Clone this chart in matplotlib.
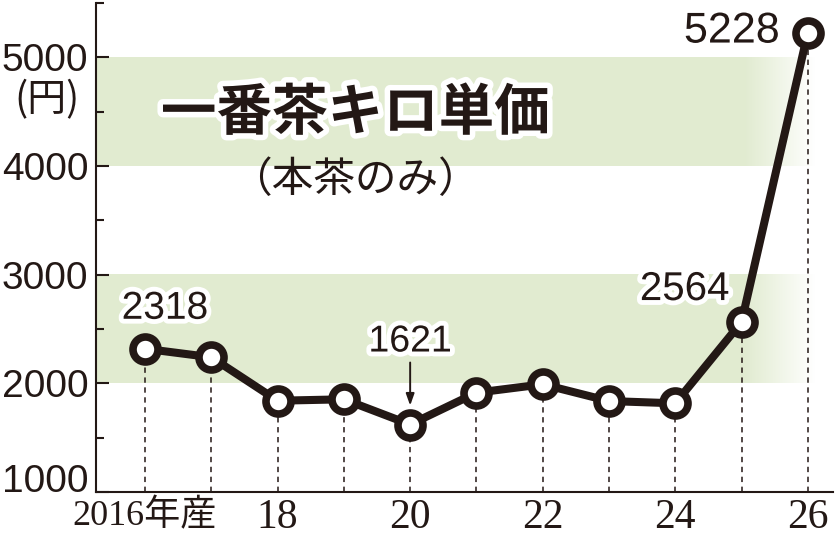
import numpy as np
import matplotlib
matplotlib.use("Agg")
import matplotlib.pyplot as plt
import matplotlib.patheffects as pe
from matplotlib.transforms import offset_copy

plt.rcParams['font.family'] = ['Liberation Sans', 'Noto Sans CJK JP', 'DejaVu Sans']

# data
years = [2016, 2017, 2018, 2019, 2020, 2021, 2022, 2023, 2024, 2025, 2026]
prices = [2318, 2240, 1840, 1853, 1621, 1914, 1991, 1837, 1816, 2564, 5228]
xtick_pos = [2016, 2018, 2020, 2022, 2024, 2026]
xtick_labels = ["2016年産", "18", "20", "22", "24", "26"]
ytick_pos = [1000, 2000, 3000, 4000, 5000]
ytick_labels = ["1000", "2000", "3000", "4000", "5000"]
bands = [(2000, 3000), (4000, 5000)]
# year -> (label, offset in pixels from the point, font size)
callouts = {2016: ("2318", (20, 40), 28),
            2020: ("1621", (0, 83), 27),
            2025: ("2564", (-57, 33), 29),
            2026: ("5228", (-76, 1), 31)}

ink = "#231815"
green = (0.886, 0.922, 0.816)
halo = [pe.withStroke(linewidth=7, foreground="white")]

fig = plt.figure(figsize=(8.38, 5.37), dpi=100)
W, H = 838, 537
ax = fig.add_axes([96 / W, 45 / H, (833 - 96) / W, (534 - 45) / H])

xmin, xmax = 2015.26, 2026.38
ymin, ymax = 1000, 5500

# green bands that fade out on the right
band_end = 2026.11
fade_start = 2025.05
n = 400
xs = np.linspace(xmin, band_end, n)
alpha = np.clip((band_end - xs) / (band_end - fade_start), 0, 1)
rgba = np.zeros((1, n, 4))
rgba[..., 0], rgba[..., 1], rgba[..., 2] = green
rgba[..., 3] = alpha
for lo, hi in bands:
    ax.imshow(rgba, extent=[xmin, band_end, lo, hi], aspect="auto",
              interpolation="bilinear", zorder=0)

# dashed drop lines
ax.vlines(years, ymin, prices, colors=ink, linestyles=(0, (3.5, 3)), lw=1.1, zorder=2)

ax.plot(years, prices, color=ink, lw=5.8, marker="o", ms=18, mfc="white",
        mec=ink, mew=5.5, zorder=4, solid_joinstyle="round")

for yr, (txt, (dx, dy), fs) in callouts.items():
    val = prices[years.index(yr)]
    ax.annotate(txt, (yr, val), xytext=(dx, dy), textcoords="offset pixels",
                ha="center", va="center", fontsize=fs, color=ink,
                path_effects=halo, zorder=6)

# small arrow onto the lowest point
low = prices[years.index(2020)]
ax.annotate("", xy=(2020, low), xycoords=offset_copy(ax.transData, fig, y=19, units="dots"),
            xytext=(2020, low), textcoords=offset_copy(ax.transData, fig, y=62, units="dots"),
            arrowprops=dict(arrowstyle="-|>,head_length=0.7,head_width=0.25", color=ink,
                            lw=1.4, shrinkA=0, shrinkB=0), zorder=6)

ax.set_xlim(xmin, xmax)
ax.set_ylim(ymin, ymax)

for s in ["top", "right"]:
    ax.spines[s].set_visible(False)
for s in ["left", "bottom"]:
    ax.spines[s].set_color(ink)
    ax.spines[s].set_linewidth(1.5)

ax.set_yticks(ytick_pos)
ax.set_yticklabels(ytick_labels)
ax.set_yticks(np.arange(1500, 5501, 1000), minor=True)
ax.tick_params(axis="y", which="major", direction="in", length=9.5, width=1.5,
               colors=ink, labelsize=28, pad=5.5)
ax.tick_params(axis="y", which="minor", direction="in", length=5.5, width=1.5, colors=ink)
ytl = ax.get_yticklabels()
ytl[0].set_va("baseline")

ax.set_xticks(xtick_pos)
ax.set_xticklabels(xtick_labels, family=["Liberation Serif", "Noto Sans CJK JP"])
ax.tick_params(axis="x", length=0, labelsize=30, colors=ink, pad=5)
xtl = ax.get_xticklabels()
xtl[0].set_fontsize(26)
xtl[0].set_x(2015.9)

ax.text(2019.17, 4480, "一番茶キロ単価", fontsize=40, fontweight="bold",
        family=["Noto Sans CJK JP"], color=ink, ha="center", va="center",
        path_effects=[pe.withStroke(linewidth=8, foreground="white")], zorder=5)
ax.text(2019.17, 3865, "（本茶のみ）", fontsize=30, family=["Noto Sans CJK JP"],
        color=ink, ha="center", va="center", zorder=5)

fig.text(47 / W, 1 - 100 / H, "(円)", fontsize=28, family=["Noto Sans CJK JP"],
         color=ink, ha="center", va="center")

fig.savefig("out.png", dpi=100)
